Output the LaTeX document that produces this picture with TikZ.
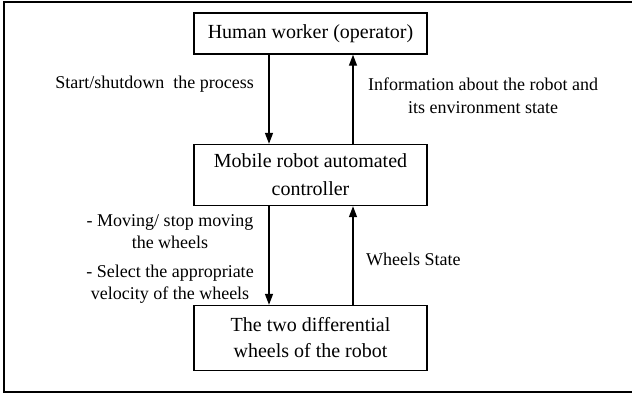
\documentclass[tikz,border=0pt]{standalone}
\usepackage{fontspec}
\setmainfont{Liberation Serif}
\usetikzlibrary{arrows.meta}
\tikzset{
  block/.style={draw,line width=1.4pt,minimum width=233pt,align=center,
    inner sep=0pt,font=\fontsize{20}{26}\selectfont},
  flow/.style={line width=1.4pt,-{Triangle[length=11pt,width=8pt]}},
  lbl/.style={align=center,inner sep=0pt,font=\fontsize{18}{22}\selectfont}
}
\begin{document}
\begin{tikzpicture}[x=1pt,y=-1pt]
    \useasboundingbox (0,0) rectangle (632,394);
    \draw [line width=1.8pt] (4,2) rectangle (660,392);
    \node [block,minimum height=41pt] (human) at (310.5,33.5) {Human worker (operator)};
    \node [block,minimum height=61pt] (ctrl) at (310.5,175) {Mobile robot automated\\[2pt]controller};
    \node [block,minimum height=65pt] (wheels) at (310.5,338) {The two differential\\wheels of the robot};
    \draw [flow] ([xshift=-41.5pt]human.south) -- ([xshift=-41.5pt]ctrl.north);
    \draw [flow] ([xshift=42.5pt]ctrl.north) -- ([xshift=42.5pt]human.south);
    \draw [flow] ([xshift=-41.5pt]ctrl.south) -- ([xshift=-41.5pt]wheels.north);
    \draw [flow] ([xshift=42.5pt]wheels.north) -- ([xshift=42.5pt]ctrl.south);
    \node [lbl,anchor=east] (start) at (254,84) {Start/shutdown\ \ the process};
    \node [lbl] (info) at (483,96) {Information about the robot and\\[1pt]its environment state};
    \node [lbl] (cmd) at (170,259) {- Moving/ stop moving\\the wheels\\[7pt]- Select the appropriate\\velocity of the wheels};
    \node [lbl,anchor=west] (state) at (366,259) {Wheels State};
  \end{tikzpicture}
\end{document}
